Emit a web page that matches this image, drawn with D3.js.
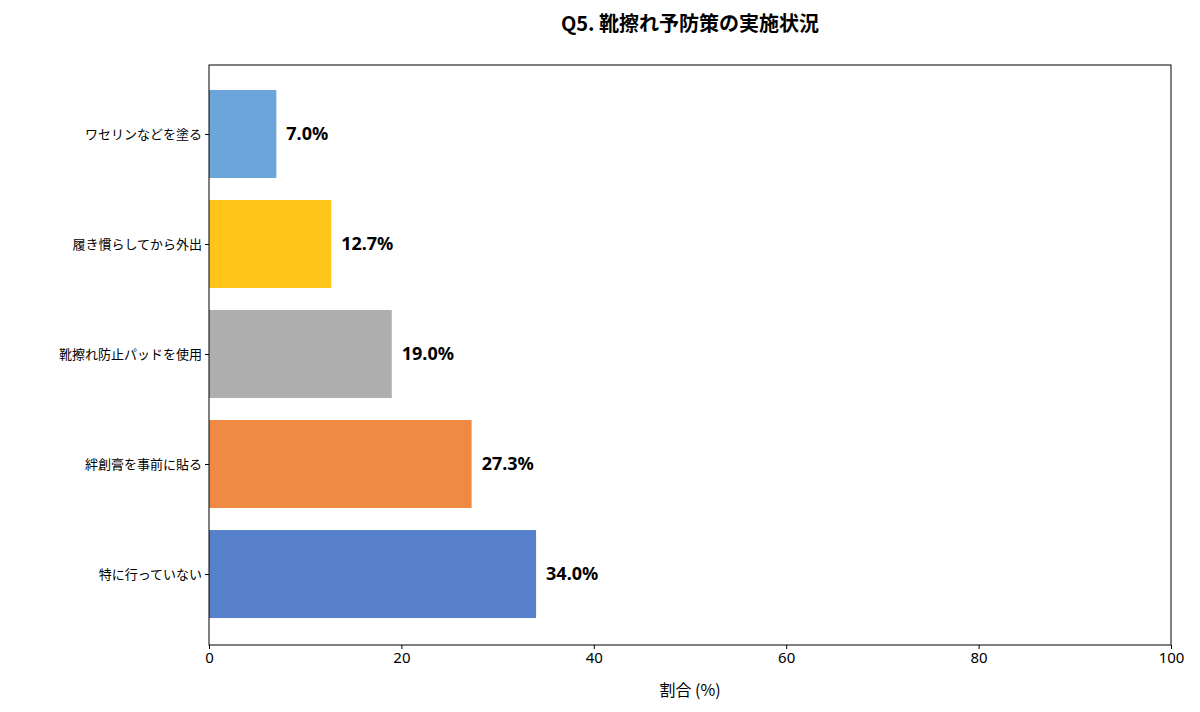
<!DOCTYPE html>
<html>
<head>
<meta charset="utf-8">
<script src="https://cdn.jsdelivr.net/npm/d3@7"></script>
<style>
body { margin: 0; background: #fff; font-family: "Noto Sans CJK JP", "Noto Sans", sans-serif; }
</style>
</head>
<body>
<div id="chart"></div>
<script>
// bottom to top
var categories = ['特に行っていない', '絆創膏を事前に貼る', '靴擦れ防止パッドを使用', '履き慣らしてから外出', 'ワセリンなどを塗る']
var values = [34.0, 27.3, 19.0, 12.7, 7.0]
var colors = ['#4472C4', '#ED7D31', '#A5A5A5', '#FFC000', '#5B9BD5']
var xTicks = [0, 20, 40, 60, 80, 100]

var width = 1200
var height = 712
var plotLeft = 209, plotRight = 1171, plotTop = 65, plotBottom = 645

var svg = d3.select('#chart').append('svg')
    .attr('width', width)
    .attr('height', height)

var xScale = d3.scaleLinear().domain([0, 100]).range([plotLeft, plotRight])
var yScale = d3.scaleLinear().domain([-0.645, 4.627]).range([plotBottom, plotTop])
var barH = (yScale(0) - yScale(1)) * 0.8

svg.append('text')
    .attr('x', 690).attr('y', 31)
    .attr('text-anchor', 'middle')
    .attr('font-size', 20).attr('font-weight', 'bold')
    .text('Q5. 靴擦れ予防策の実施状況')

svg.selectAll('rect.bar')
    .data(values)
    .enter().append('rect')
    .attr('class', 'bar')
    .attr('x', xScale(0))
    .attr('y', (d, i) => yScale(i) - barH / 2)
    .attr('width', d => xScale(d) - xScale(0))
    .attr('height', barH)
    .attr('fill', (d, i) => colors[i])
    .attr('opacity', 0.9)

svg.selectAll('text.val')
    .data(values)
    .enter().append('text')
    .attr('class', 'val')
    .attr('x', d => xScale(d) + 10)
    .attr('y', (d, i) => yScale(i))
    .attr('dy', '0.35em')
    .attr('font-size', 18).attr('font-weight', 'bold')
    .attr('font-family', '"Noto Sans", sans-serif')
    .text(d => d.toFixed(1) + '%')

svg.append('rect')
    .attr('x', plotLeft).attr('y', plotTop)
    .attr('width', plotRight - plotLeft).attr('height', plotBottom - plotTop)
    .attr('fill', 'none').attr('stroke', '#000').attr('stroke-width', 1)

var xAxis = svg.append('g')
    .attr('transform', 'translate(0,' + plotBottom + ')')
    .call(d3.axisBottom(xScale).tickValues(xTicks).tickSizeOuter(0).tickSize(4))
xAxis.select('.domain').remove()
xAxis.selectAll('text').attr('font-size', 15).attr('fill', '#000')
    .attr('font-family', '"Noto Sans", sans-serif')

var yAxis = svg.append('g')
    .attr('transform', 'translate(' + plotLeft + ',0)')
    .call(d3.axisLeft(yScale).tickValues(d3.range(categories.length))
        .tickFormat(i => categories[i]).tickSizeOuter(0).tickSize(4))
yAxis.select('.domain').remove()
yAxis.selectAll('text').attr('font-size', 13).attr('fill', '#000')
    .attr('font-family', '"Noto Sans CJK JP", sans-serif')

svg.append('text')
    .attr('x', (plotLeft + plotRight) / 2).attr('y', 696)
    .attr('text-anchor', 'middle')
    .attr('font-size', 16)
    .text('割合 (%)')
</script>
</body>
</html>
